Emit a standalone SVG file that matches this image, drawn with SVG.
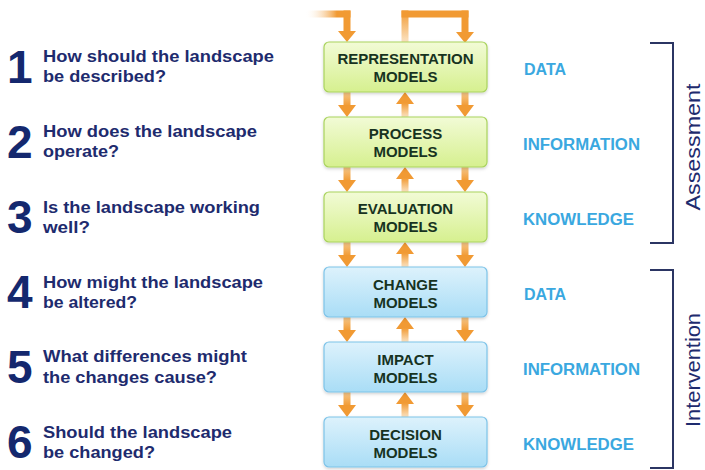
<svg xmlns="http://www.w3.org/2000/svg" width="705" height="470" viewBox="0 0 705 470">
<defs>
<linearGradient id="gGreen" x1="0" y1="0" x2="0" y2="1"><stop offset="0" stop-color="#F2FBD6"/><stop offset="1" stop-color="#D6F08F"/></linearGradient>
<linearGradient id="gBlue" x1="0" y1="0" x2="0" y2="1"><stop offset="0" stop-color="#DDF2FC"/><stop offset="1" stop-color="#A9DDF6"/></linearGradient>
<linearGradient id="gDown" x1="0" y1="0" x2="0" y2="1"><stop offset="0" stop-color="#F7C98C"/><stop offset="1" stop-color="#F19A33"/></linearGradient>
<linearGradient id="gUp" x1="0" y1="1" x2="0" y2="0"><stop offset="0" stop-color="#FBE3C2"/><stop offset="1" stop-color="#F19A33"/></linearGradient>
<linearGradient id="gLeftIn" x1="0" y1="0" x2="1" y2="0"><stop offset="0" stop-color="#FFFFFF" stop-opacity="0"/><stop offset="0.7" stop-color="#F19A33"/><stop offset="1" stop-color="#F19A33"/></linearGradient>
<filter id="sh" x="-5%" y="-10%" width="110%" height="130%"><feDropShadow dx="0" dy="1.5" stdDeviation="1.5" flood-color="#000" flood-opacity="0.18"/></filter>
</defs>
<style>
.q{font-family:"Liberation Sans",Arial,sans-serif;font-weight:bold;font-size:16px;fill:#1E2B6E}
.n{font-family:"Liberation Sans",Arial,sans-serif;font-weight:bold;font-size:46px;fill:#14286E}
.lab{font-family:"Liberation Sans",Arial,sans-serif;font-weight:bold;font-size:16px;fill:#3AA8E0}
.bt{font-family:"Liberation Sans",Arial,sans-serif;font-weight:bold;font-size:15px;fill:#17331F;text-anchor:middle}
.side{font-family:"Liberation Sans",Arial,sans-serif;font-size:21px;fill:#1E2B6E;text-anchor:middle}
.bg{fill:url(#gGreen);stroke:#A9D35E;stroke-width:1.2}
.bb{fill:url(#gBlue);stroke:#7DC3E8;stroke-width:1.2}
.ah{fill:#F19A33}
.brk{fill:none;stroke:#2B3563;stroke-width:2}
</style>
<rect width="705" height="470" fill="#FFFFFF"/>

<g id="connectors">
<rect x="305" y="10.5" width="45.5" height="7" fill="url(#gLeftIn)"/>
<rect x="343.5" y="10.5" width="7" height="21" fill="#F19A33"/>
<polygon class="ah" points="338,31 356,31 347,42"/>
<rect x="401.5" y="10.5" width="7" height="31.5" fill="url(#gUp)"/>
<rect x="401.5" y="10.5" width="67" height="7" fill="#F19A33"/>
<rect x="461.5" y="10.5" width="7" height="21.5" fill="#F19A33"/>
<polygon class="ah" points="456,32 474,32 465,43"/>
<g id="gap1">
<rect x="343.5" y="92" width="7" height="14" fill="url(#gDown)"/><polygon class="ah" points="338,105 356,105 347,117"/>
<rect x="461.5" y="92" width="7" height="14" fill="url(#gDown)"/><polygon class="ah" points="456,105 474,105 465,117"/>
<polygon class="ah" points="396,104 414,104 405,92"/><rect x="401.5" y="103" width="7" height="14" fill="url(#gUp)"/>
</g>
<g id="gap2" transform="translate(0,75)">
<rect x="343.5" y="92" width="7" height="14" fill="url(#gDown)"/><polygon class="ah" points="338,105 356,105 347,117"/>
<rect x="461.5" y="92" width="7" height="14" fill="url(#gDown)"/><polygon class="ah" points="456,105 474,105 465,117"/>
<polygon class="ah" points="396,104 414,104 405,92"/><rect x="401.5" y="103" width="7" height="14" fill="url(#gUp)"/>
</g>
<g id="gap3" transform="translate(0,150)">
<rect x="343.5" y="92" width="7" height="14" fill="url(#gDown)"/><polygon class="ah" points="338,105 356,105 347,117"/>
<rect x="461.5" y="92" width="7" height="14" fill="url(#gDown)"/><polygon class="ah" points="456,105 474,105 465,117"/>
<polygon class="ah" points="396,104 414,104 405,92"/><rect x="401.5" y="103" width="7" height="14" fill="url(#gUp)"/>
</g>
<g id="gap4" transform="translate(0,225)">
<rect x="343.5" y="92" width="7" height="14" fill="url(#gDown)"/><polygon class="ah" points="338,105 356,105 347,117"/>
<rect x="461.5" y="92" width="7" height="14" fill="url(#gDown)"/><polygon class="ah" points="456,105 474,105 465,117"/>
<polygon class="ah" points="396,104 414,104 405,92"/><rect x="401.5" y="103" width="7" height="14" fill="url(#gUp)"/>
</g>
<g id="gap5" transform="translate(0,300)">
<rect x="343.5" y="92" width="7" height="14" fill="url(#gDown)"/><polygon class="ah" points="338,105 356,105 347,117"/>
<rect x="461.5" y="92" width="7" height="14" fill="url(#gDown)"/><polygon class="ah" points="456,105 474,105 465,117"/>
<polygon class="ah" points="396,104 414,104 405,92"/><rect x="401.5" y="103" width="7" height="14" fill="url(#gUp)"/>
</g>
</g>

<g id="box-representation"><rect class="bg" x="324" y="42" width="163" height="50" rx="5" filter="url(#sh)"/><text class="bt" x="405.5" y="64">REPRESENTATION</text><text class="bt" x="405.5" y="82">MODELS</text></g>
<g id="box-process"><rect class="bg" x="324" y="117" width="163" height="50" rx="5" filter="url(#sh)"/><text class="bt" x="405.5" y="139">PROCESS</text><text class="bt" x="405.5" y="157">MODELS</text></g>
<g id="box-evaluation"><rect class="bg" x="324" y="192" width="163" height="50" rx="5" filter="url(#sh)"/><text class="bt" x="405.5" y="214">EVALUATION</text><text class="bt" x="405.5" y="232">MODELS</text></g>
<g id="box-change"><rect class="bb" x="324" y="267" width="163" height="50" rx="5" filter="url(#sh)"/><text class="bt" x="405.5" y="290">CHANGE</text><text class="bt" x="405.5" y="308">MODELS</text></g>
<g id="box-impact"><rect class="bb" x="324" y="342" width="163" height="50" rx="5" filter="url(#sh)"/><text class="bt" x="405.5" y="365">IMPACT</text><text class="bt" x="405.5" y="383">MODELS</text></g>
<g id="box-decision"><rect class="bb" x="324" y="417" width="163" height="50" rx="5" filter="url(#sh)"/><text class="bt" x="405.5" y="440">DECISION</text><text class="bt" x="405.5" y="458">MODELS</text></g>

<g id="q1"><text class="n" x="7" y="83">1</text><text class="q" x="43" y="62" textLength="231" lengthAdjust="spacingAndGlyphs">How should the landscape</text><text class="q" x="43" y="82" textLength="123" lengthAdjust="spacingAndGlyphs">be described?</text></g>
<g id="q2"><text class="n" x="7" y="158">2</text><text class="q" x="43" y="137" textLength="214" lengthAdjust="spacingAndGlyphs">How does the landscape</text><text class="q" x="43" y="157" textLength="76" lengthAdjust="spacingAndGlyphs">operate?</text></g>
<g id="q3"><text class="n" x="7" y="233">3</text><text class="q" x="43" y="213" textLength="217" lengthAdjust="spacingAndGlyphs">Is the landscape working</text><text class="q" x="43" y="233" textLength="47" lengthAdjust="spacingAndGlyphs">well?</text></g>
<g id="q4"><text class="n" x="7" y="308">4</text><text class="q" x="43" y="288" textLength="220" lengthAdjust="spacingAndGlyphs">How might the landscape</text><text class="q" x="43" y="308" textLength="94" lengthAdjust="spacingAndGlyphs">be altered?</text></g>
<g id="q5"><text class="n" x="7" y="383">5</text><text class="q" x="43" y="362" textLength="204" lengthAdjust="spacingAndGlyphs">What differences might</text><text class="q" x="43" y="383" textLength="174" lengthAdjust="spacingAndGlyphs">the changes cause?</text></g>
<g id="q6"><text class="n" x="7" y="458">6</text><text class="q" x="43" y="438" textLength="189" lengthAdjust="spacingAndGlyphs">Should the landscape</text><text class="q" x="43" y="458" textLength="112" lengthAdjust="spacingAndGlyphs">be changed?</text></g>

<g id="labels">
<text class="lab" x="524" y="75">DATA</text>
<text class="lab" x="523" y="150" textLength="117" lengthAdjust="spacingAndGlyphs">INFORMATION</text>
<text class="lab" x="523" y="225" textLength="111" lengthAdjust="spacingAndGlyphs">KNOWLEDGE</text>
<text class="lab" x="524" y="300">DATA</text>
<text class="lab" x="523" y="375" textLength="117" lengthAdjust="spacingAndGlyphs">INFORMATION</text>
<text class="lab" x="523" y="450" textLength="111" lengthAdjust="spacingAndGlyphs">KNOWLEDGE</text>
</g>

<g id="assessment"><polyline class="brk" points="650,43 673,43 673,243 650,243"/><text class="side" transform="translate(700,147) rotate(-90)" textLength="127" lengthAdjust="spacingAndGlyphs">Assessment</text></g>
<g id="intervention"><polyline class="brk" points="650,270 673,270 673,468 650,468"/><text class="side" transform="translate(700,370) rotate(-90)" textLength="114" lengthAdjust="spacingAndGlyphs">Intervention</text></g>
</svg>
